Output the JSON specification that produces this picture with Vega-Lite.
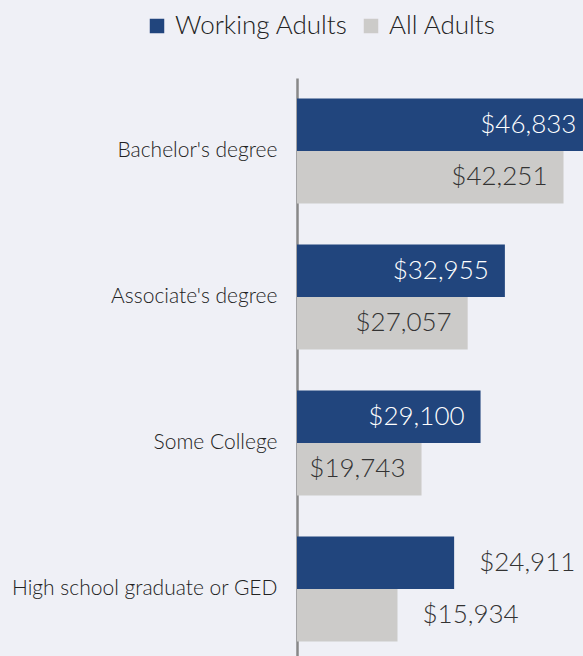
{
  "$schema": "https://vega.github.io/schema/vega-lite/v6.json",
  "autosize": {"type": "none"},
  "padding": {"left": 297, "top": 78, "right": 0, "bottom": 0},
  "width": 286,
  "height": 584,
  "background": "#eff0f6",
  "config": {
    "view": {"stroke": null},
    "font": "Lato"
  },
  "data": {
    "values": [
      {"education": "Bachelor's degree", "series": "Working Adults", "income": 46833},
      {"education": "Bachelor's degree", "series": "All Adults", "income": 42251},
      {"education": "Associate's degree", "series": "Working Adults", "income": 32955},
      {"education": "Associate's degree", "series": "All Adults", "income": 27057},
      {"education": "Some College", "series": "Working Adults", "income": 29100},
      {"education": "Some College", "series": "All Adults", "income": 19743},
      {"education": "High school graduate or GED", "series": "Working Adults", "income": 24911},
      {"education": "High school graduate or GED", "series": "All Adults", "income": 15934}
    ]
  },
  "encoding": {
    "y": {
      "field": "education",
      "type": "nominal",
      "sort": ["Bachelor's degree", "Associate's degree", "Some College", "High school graduate or GED"],
      "scale": {"paddingInner": 0.28, "paddingOuter": 0.14},
      "axis": {
        "title": null,
        "ticks": false,
        "domainColor": "#888888",
        "domainWidth": 2.5,
        "labelFontSize": 21,
        "labelFontWeight": 300,
        "labelColor": "#222222",
        "labelPadding": 20,
        "labelLimit": 400,
        "labelFont": "Lato"
      }
    },
    "yOffset": {
      "field": "series",
      "type": "nominal",
      "sort": ["Working Adults", "All Adults"],
      "scale": {"paddingInner": 0, "paddingOuter": 0}
    },
    "x": {
      "field": "income",
      "type": "quantitative",
      "scale": {"domain": [0, 45340], "nice": false},
      "axis": null
    }
  },
  "layer": [
    {
      "mark": {"type": "bar", "clip": true, "cornerRadius": 0},
      "encoding": {
        "color": {
          "field": "series",
          "type": "nominal",
          "sort": ["Working Adults", "All Adults"],
          "scale": {"domain": ["Working Adults", "All Adults"], "range": ["#21457d", "#cccbc9"]},
          "legend": {
            "title": null,
            "orient": "none",
            "direction": "horizontal",
            "legendX": -153,
            "legendY": -65,
            "symbolType": "square",
            "symbolSize": 210,
            "symbolStrokeWidth": 0,
            "labelFontSize": 26,
            "labelFontWeight": 300,
            "labelColor": "#222222",
            "labelFont": "Lato",
            "columnPadding": 10,
            "labelOffset": 5,
            "labelLimit": 300
          }
        }
      }
    },
    {
      "transform": [{"filter": "datum.education != 'High school graduate or GED'"}],
      "mark": {"type": "text", "align": "right", "baseline": "middle", "dx": -16, "fontSize": 26, "fontWeight": 300, "font": "Lato"},
      "encoding": {
        "text": {"field": "income", "type": "quantitative", "format": "$,.0f"},
        "color": {
          "condition": {"test": "datum.series == 'Working Adults'", "value": "#ffffff"},
          "value": "#333333"
        }
      }
    },
    {
      "transform": [{"filter": "datum.education == 'High school graduate or GED'"}],
      "mark": {"type": "text", "align": "left", "baseline": "middle", "dx": 25, "fontSize": 26, "fontWeight": 300, "font": "Lato", "color": "#333333"},
      "encoding": {
        "text": {"field": "income", "type": "quantitative", "format": "$,.0f"}
      }
    }
  ]
}
